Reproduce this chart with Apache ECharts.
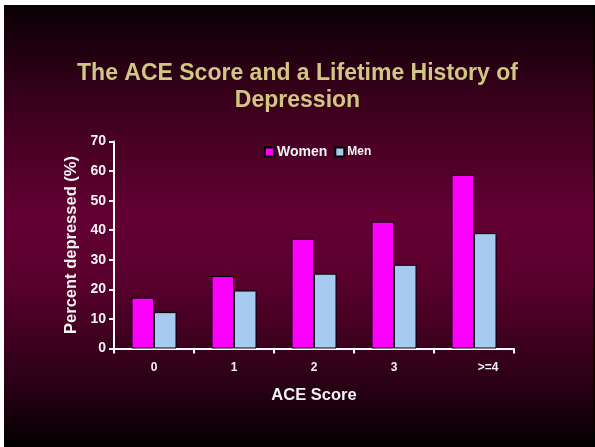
<!DOCTYPE html>
<html>
<head>
<meta charset="utf-8">
<script src="https://cdn.jsdelivr.net/npm/echarts@6/dist/echarts.min.js"></script>
<style>
  html, body { margin: 0; padding: 0; background: #ffffff; }
  #chart { width: 595px; height: 447px; }
</style>
</head>
<body>
<div id="chart"></div>
<script>
// chart data
const categories = ['0', '1', '2', '3', '>=4'];
const women = [17.2, 24.5, 37.1, 42.9, 58.7];
const men = [12.3, 19.6, 25.3, 28.3, 39.0];
const yTicks = [0, 10, 20, 30, 40, 50, 60, 70];

const chart = echarts.init(document.getElementById('chart'), null, { renderer: 'canvas' });

const labelFont = { color: '#f2f2f2', fontWeight: 'bold', fontFamily: 'Liberation Sans, Arial, sans-serif' };

chart.setOption({
    backgroundColor: '#ffffff',
    animation: false,
    graphic: [
        {
            type: 'rect', z: -10, silent: true,
            shape: { x: 4, y: 5, width: 591, height: 442 },
            style: {
                fill: new echarts.graphic.LinearGradient(0, 0, 0, 1, [
                    { offset: 0, color: '#0a0004' },
                    { offset: 0.22, color: '#3a001c' },
                    { offset: 0.48, color: '#630033' },
                    { offset: 0.62, color: '#5a002e' },
                    { offset: 0.85, color: '#2c0016' },
                    { offset: 1, color: '#030001' }
                ])
            }
        },
        {
            type: 'rect', z: -9, silent: true,
            shape: { x: 593, y: 5, width: 2, height: 442 },
            style: { fill: '#000000' }
        }
    ],
    title: {
        text: 'The ACE Score and a Lifetime History of\nDepression',
        left: 'center',
        top: 55,
        textStyle: {
            color: '#d2c683', fontSize: 23, fontWeight: 'bold', lineHeight: 27,
            fontFamily: 'Liberation Sans, Arial, sans-serif'
        }
    },
    legend: {
        data: ['Women', 'Men'],
        left: 259,
        top: 140,
        itemWidth: 9,
        itemHeight: 9,
        itemGap: 7,
        icon: 'rect',
        formatter: n => '{' + (n === 'Women' ? 'w' : 'm') + '|' + n + '}',
        textStyle: Object.assign({
            fontSize: 13, padding: [0, 0, 0, -2],
            rich: {
                w: Object.assign({ fontSize: 14 }, labelFont),
                m: Object.assign({ fontSize: 12 }, labelFont)
            }
        }, labelFont)
    },
    grid: { left: 114, right: 81, top: 141.5, bottom: 98.5, containLabel: false },
    xAxis: {
        type: 'category',
        data: categories,
        name: 'ACE Score',
        nameLocation: 'middle',
        nameGap: 38,
        nameTextStyle: Object.assign({ fontSize: 16.5 }, labelFont),
        axisLine: { lineStyle: { color: '#ffffff', width: 2 } },
        axisTick: { show: true, length: 5, lineStyle: { color: '#ffffff', width: 2 } },
        axisLabel: Object.assign({
            fontSize: 12, margin: 13,
            formatter: v => v === '>=4' ? '{r|' + v + '}' : v,
            rich: { r: Object.assign({ fontSize: 12, padding: [0, 0, 0, 28] }, labelFont) }
        }, labelFont)
    },
    yAxis: {
        type: 'value',
        min: yTicks[0],
        max: yTicks[yTicks.length - 1],
        interval: 10,
        name: 'Percent depressed (%)',
        nameLocation: 'middle',
        nameGap: 32,
        nameTextStyle: Object.assign({ fontSize: 16.5 }, labelFont),
        axisLine: { show: true, lineStyle: { color: '#ffffff', width: 2 } },
        axisTick: { show: true, length: 5, lineStyle: { color: '#ffffff', width: 2 } },
        axisLabel: Object.assign({ fontSize: 14, margin: 8 }, labelFont),
        splitLine: { show: false }
    },
    series: [
        {
            name: 'Women', type: 'bar', data: women,
            barWidth: 22.5, barGap: '0%',
            itemStyle: { color: '#ff00ff', borderColor: '#000000', borderWidth: 1 }
        },
        {
            name: 'Men', type: 'bar', data: men,
            barWidth: 22.5,
            itemStyle: { color: '#a6caf0', borderColor: '#000000', borderWidth: 1 }
        }
    ]
});
</script>
</body>
</html>
